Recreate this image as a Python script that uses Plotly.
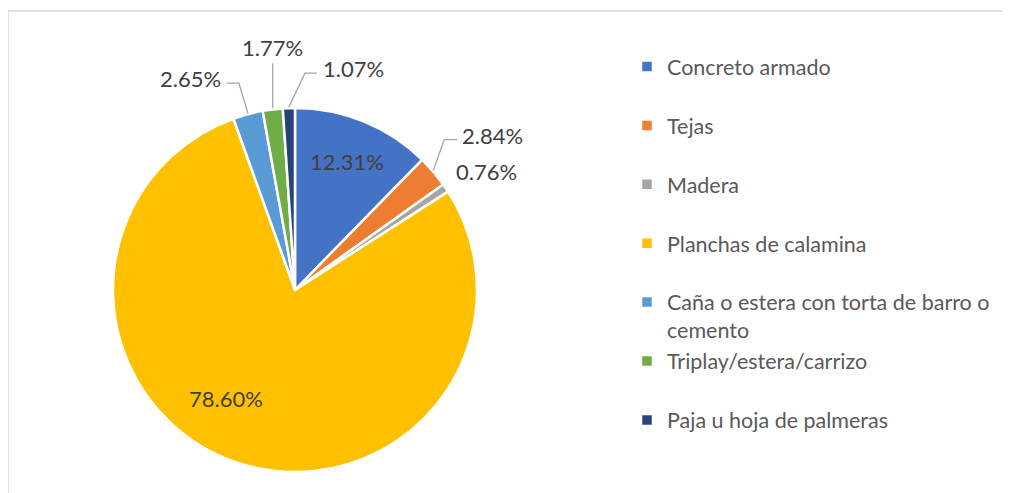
import math
import plotly.graph_objects as go

# ---- data ----
categories = [
    "Concreto armado",
    "Tejas",
    "Madera",
    "Planchas de calamina",
    "Caña o estera con torta de barro o<br>cemento",
    "Triplay/estera/carrizo",
    "Paja u hoja de palmeras",
]
percentages = [12.31, 2.84, 0.76, 78.60, 2.65, 1.77, 1.07]
colors = ["#4472C4", "#ED7D31", "#A5A5A5", "#FFC000", "#5B9BD5", "#70AD47", "#264478"]

# ---- layout constants (screen pixels) ----
W, H = 1011, 493
OFF = 8  # page body margin
CX, CY, R = 295, 290, 182
FONT = "Lato"
LABEL_SIZE = 22
LEGEND_SIZE = 21.5
LABEL_COLOR = "#404040"
LEADER_COLOR = "#A6A6A6"

# label placement style per slice
label_style = [
    ("in_frac", 0.76),
    ("out", 11, -32, 13, 3, -4),
    ("near", 8, -16),
    ("in_abs", -69, 108),
    ("out", -9, -31, -12, 4, -5),
    ("up", 0, -46, 16),
    ("out", 16, -35, 12, 4, -5),
]

def px(x):
    return (x - OFF) / W

def py(y):
    return 1 - (y - OFF) / H

total = sum(percentages)
legend_labels = [c if "<br>" in c else c + "<br> " for c in categories]

fig = go.Figure(
    go.Pie(
        labels=legend_labels,
        values=percentages,
        sort=False,
        direction="clockwise",
        rotation=0,
        marker=dict(colors=colors, line=dict(color="white", width=2.5)),
        textinfo="none",
        hoverinfo="label+percent",
        domain=dict(x=[px(CX - R), px(CX + R)], y=[py(CY + R), py(CY - R)]),
    )
)

shapes = []
annotations = []
cum = 0.0
for val, st in zip(percentages, label_style):
    mid = (cum + val / 2) / total * 2 * math.pi
    cum += val
    sx, sy = math.sin(mid), -math.cos(mid)
    ex, ey = CX + R * sx, CY + R * sy
    text = f"{val:.2f}%"
    kind = st[0]
    if kind == "in_frac":
        tx, ty = CX + st[1] * R * sx, CY + st[1] * R * sy
        annotations.append(dict(x=px(tx), y=py(ty), text=text, xanchor="center", yanchor="middle"))
    elif kind == "in_abs":
        tx, ty = CX + st[1], CY + st[2]
        annotations.append(dict(x=px(tx), y=py(ty), text=text, xanchor="center", yanchor="middle"))
    elif kind == "near":
        tx, ty = ex + st[1], ey + st[2]
        annotations.append(dict(x=px(tx), y=py(ty), text=text, xanchor="left", yanchor="middle"))
    elif kind == "up":
        bx, by = ex + st[1], ey + st[2]
        shapes.append(dict(type="line", xref="paper", yref="paper", x0=px(ex), y0=py(ey - 1),
                           x1=px(bx), y1=py(by), line=dict(color=LEADER_COLOR, width=1.3)))
        annotations.append(dict(x=px(bx), y=py(by - st[3]), text=text, xanchor="center", yanchor="middle"))
    else:
        _, bdx, bdy, hl, gap, tdy = st
        bx, by = ex + bdx, ey + bdy
        hx = bx + hl
        shapes.append(dict(type="path", xref="paper", yref="paper",
                           path=f"M{px(ex)},{py(ey - 1)} L{px(bx)},{py(by)} L{px(hx)},{py(by)}",
                           line=dict(color=LEADER_COLOR, width=1.3)))
        if hl >= 0:
            annotations.append(dict(x=px(hx + gap), y=py(by + tdy), text=text, xanchor="left", yanchor="middle"))
        else:
            annotations.append(dict(x=px(hx - gap), y=py(by + tdy), text=text, xanchor="right", yanchor="middle"))

for a in annotations:
    a.update(xref="paper", yref="paper", showarrow=False,
             font=dict(family=FONT, size=LABEL_SIZE, color=LABEL_COLOR))

# chart border (top & left visible)
shapes.append(dict(type="rect", xref="paper", yref="paper", x0=px(8), y0=py(11), x1=1.1, y1=-0.1,
                   line=dict(color="#D9D9D9", width=1.5), layer="below"))

fig.update_layout(
    width=W,
    height=H,
    margin=dict(l=0, r=0, t=0, b=0),
    paper_bgcolor="white",
    plot_bgcolor="white",
    showlegend=True,
    legend=dict(
        x=px(627), y=py(46), xanchor="left", yanchor="top",
        font=dict(family=FONT, size=LEGEND_SIZE, color="#595959"),
        valign="top",
        tracegroupgap=0,
        bgcolor="rgba(0,0,0,0)",
    ),
    shapes=shapes,
    annotations=annotations,
)

fig.write_html("out.html")
